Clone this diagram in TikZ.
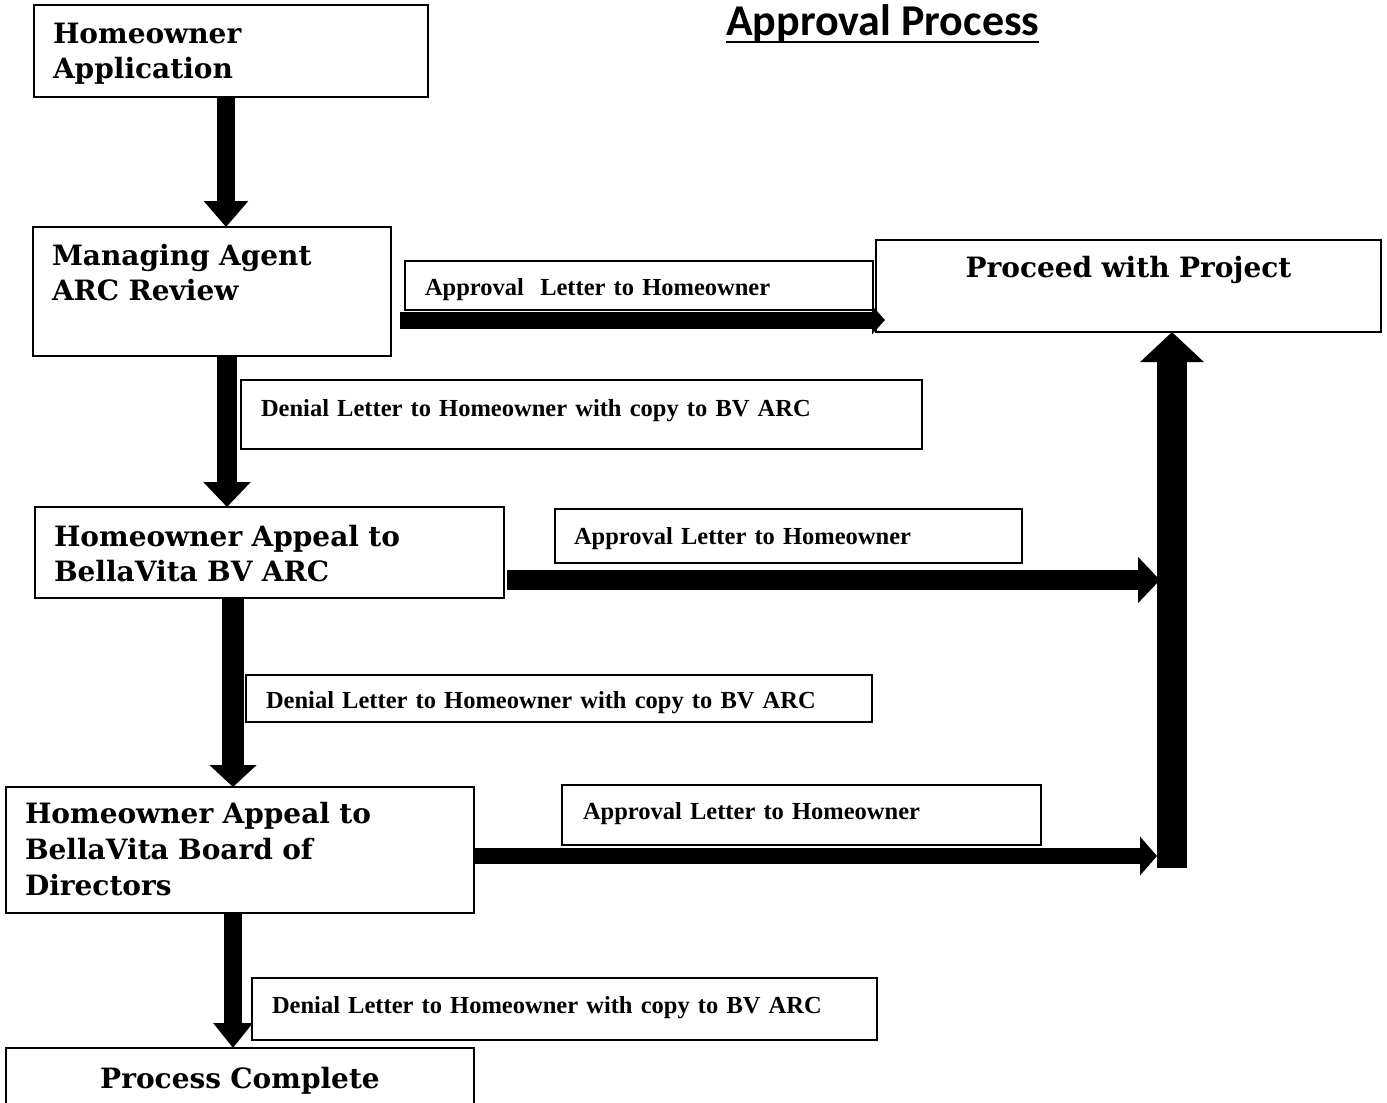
\documentclass[tikz,border=0pt]{standalone}
\usepackage{fontspec}
\newfontfamily\boxfont{DejaVu Serif}
\newfontfamily\labfont{Liberation Serif}
\newfontfamily\titlefont{Carlito}
\usetikzlibrary{arrows.meta}
\begin{document}
\begin{tikzpicture}[x=1pt,y=-1pt,
  mainbox/.style={draw, line width=2pt, anchor=north west, inner ysep=0pt, inner xsep=19pt, outer sep=0pt,
    align=left, font={\boxfont\bfseries\fontsize{28pt}{35pt}\selectfont}},
  labbox/.style={draw, line width=1.6pt, anchor=north west, inner ysep=0pt, inner xsep=20pt, outer sep=0pt,
    align=left, font={\labfont\bfseries\fontsize{24.5pt}{30pt}\selectfont}},
  bigarrow/.style={line width=#1, draw=black}
]
\useasboundingbox (0,0) rectangle (1387,1103);
\fill[white] (0,0) rectangle (1387,1103);

% title
\node[anchor=base west, inner sep=0pt, font={\titlefont\bfseries\fontsize{44pt}{52pt}\selectfont}] (title) at (726,35) {Approval Process};
\draw[line width=2.5pt] ([yshift=-7pt]title.base west) -- ([yshift=-7pt]title.base east);

% main boxes
\node[mainbox, text width=356pt, text height=38pt, text depth=54pt] (app) at (34,5) {Homeowner\\Application};
\node[mainbox, text width=320pt, text height=38pt, text depth=91pt] (mar) at (33,227) {Managing Agent\\ARC Review};
\node[mainbox, text width=431pt, text height=39pt, text depth=52pt] (appeal1) at (35,507) {Homeowner Appeal to\\BellaVita BV ARC};
\node[mainbox, text width=430pt, text height=36pt, text depth=90pt, font={\boxfont\bfseries\fontsize{28pt}{36pt}\selectfont}] (appeal2) at (6,787) {Homeowner Appeal to\\BellaVita Board of\\Directors};
\node[mainbox, align=center, text width=430pt, text height=40pt, text depth=22pt] (complete) at (6,1048) {Process Complete};
\node[mainbox, align=center, text width=467pt, text height=37pt, text depth=55pt] (proceed) at (876,240) {Proceed with Project};

% label boxes
\node[labbox, text width=428pt, text height=34pt, text depth=15pt] (l1) at (405,261) {Approval\ \ Letter to Homeowner};
\node[labbox, text width=641pt, text height=36pt, text depth=33pt] (d1) at (241,380) {Denial Letter to Homeowner with copy to BV ARC};
\node[labbox, inner xsep=19pt, text width=429pt, text height=35pt, text depth=19pt] (l2) at (555,509) {Approval Letter to Homeowner};
\node[labbox, text width=586pt, text height=33pt, text depth=14pt] (d2) at (246,675) {Denial Letter to Homeowner with copy to BV ARC};
\node[labbox, inner xsep=21pt, text width=437pt, text height=34pt, text depth=26pt] (l3) at (562,785) {Approval Letter to Homeowner};
\node[labbox, text width=585pt, text height=35pt, text depth=27pt] (d3) at (252,978) {Denial Letter to Homeowner with copy to BV ARC};

% coordinates for the collecting bar
\coordinate (barbot) at (1172,868);
\coordinate (barleft) at (1157,868);

% vertical arrows
\draw[bigarrow=18pt, -{Triangle[width=43pt,length=26pt]}] ([xshift=-5pt]app.south) -- ([xshift=-5pt]app.south |- mar.north);
\draw[bigarrow=20pt, -{Triangle[width=46pt,length=25pt]}] ([xshift=15pt]mar.south) -- ([xshift=15pt]mar.south |- appeal1.north);
\draw[bigarrow=22pt, -{Triangle[width=46pt,length=22pt]}] ([xshift=-36.5pt]appeal1.south) -- ([xshift=-36.5pt]appeal1.south |- appeal2.north);
\draw[bigarrow=18pt, -{Triangle[width=38pt,length=25pt]}] ([xshift=-7pt]appeal2.south) -- ([xshift=-7pt]appeal2.south |- complete.north);

% horizontal arrows
\draw[bigarrow=17pt, -{Triangle[width=28pt,length=13pt]}] ([xshift=9pt,yshift=-28.5pt]mar.east) -- ([xshift=9pt,yshift=-28.5pt]mar.east -| proceed.west);
\draw[bigarrow=20pt, -{Triangle[width=45pt,length=22pt]}] ([xshift=3pt,yshift=-27.5pt]appeal1.east) -- ([xshift=3pt,yshift=-27.5pt]appeal1.east -| barleft);
\draw[bigarrow=16pt, -{Triangle[width=38pt,length=17pt]}] ([yshift=-6pt]appeal2.east) -- ([yshift=-6pt]appeal2.east -| barleft);

% collecting bar up to Proceed
\draw[bigarrow=30pt, -{Triangle[width=62pt,length=30pt]}] (barbot) -- (barbot |- proceed.south);
\end{tikzpicture}
\end{document}
